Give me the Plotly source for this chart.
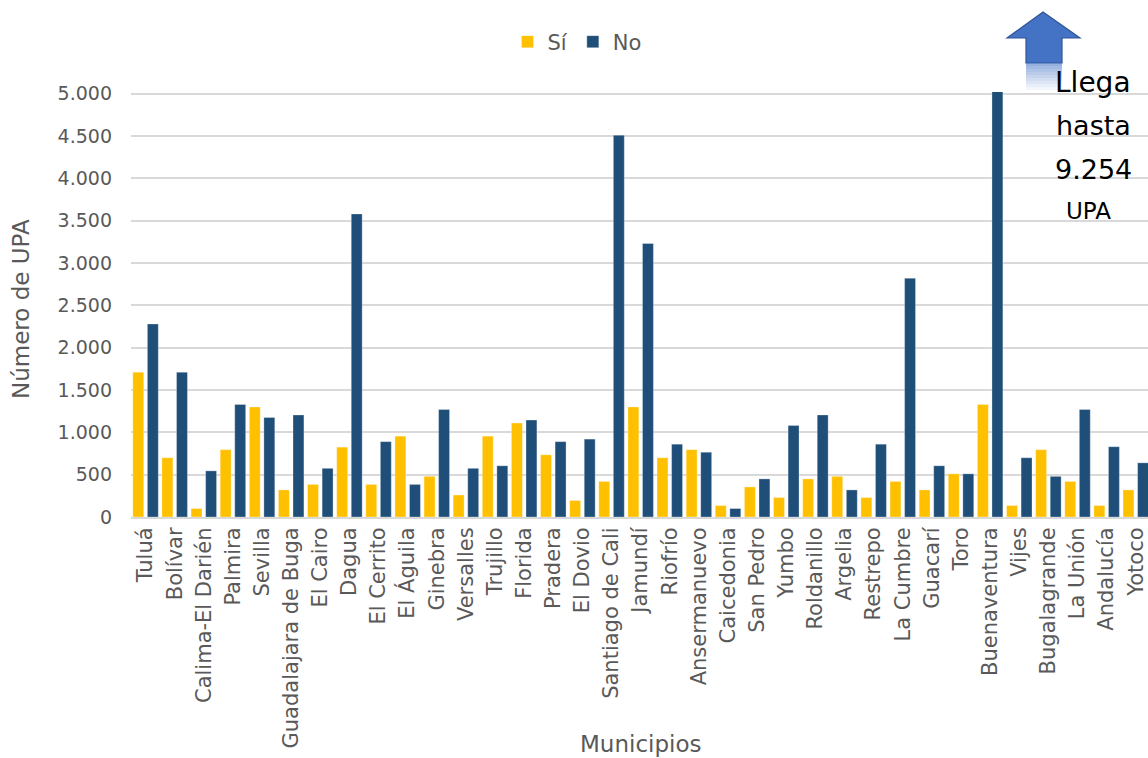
import plotly.graph_objects as go

# Municipios del Valle del Cauca y número de UPA por respuesta
municipios = [
    "Tuluá", "Bolívar", "Calima-El Darién", "Palmira", "Sevilla",
    "Guadalajara de Buga", "El Cairo", "Dagua", "El Cerrito", "El Águila",
    "Ginebra", "Versalles", "Trujillo", "Florida", "Pradera", "El Dovio",
    "Santiago de Cali", "Jamundí", "Riofrío", "Ansermanuevo", "Caicedonia",
    "San Pedro", "Yumbo", "Roldanillo", "Argelia", "Restrepo", "La Cumbre",
    "Guacarí", "Toro", "Buenaventura", "Vijes", "Bugalagrande", "La Unión",
    "Andalucía", "Yotoco",
]
upa_si = [
    1710, 700, 100, 795, 1300, 320, 385, 825, 385, 955,
    480, 260, 955, 1110, 735, 195, 420, 1300, 700, 795,
    135, 355, 230, 450, 480, 230, 420, 320, 510, 1330,
    135, 795, 420, 135, 320,
]
upa_no = [
    2280, 1710, 545, 1330, 1175, 1205, 575, 3580, 890, 385,
    1270, 575, 605, 1145, 890, 920, 4510, 3230, 860, 765,
    100, 450, 1080, 1205, 320, 860, 2820, 605, 510, 9254,
    700, 480, 1270, 830, 640,
]
y_ticks = [0, 500, 1000, 1500, 2000, 2500, 3000, 3500, 4000, 4500, 5000]
y_tick_text = ["0", "500", "1.000", "1.500", "2.000", "2.500", "3.000",
               "3.500", "4.000", "4.500", "5.000"]

FONT = "DejaVu Sans"
GRAY = "#595959"
AMARILLO = "#FFC000"
AZUL = "#1F4E79"

W, H = 1148, 758
M_L, M_R, M_T, M_B = 131, 0, 92, 241
PW, PH = W - M_L - M_R, H - M_T - M_B


def px(x):
    return (x - M_L) / PW


def py(y):
    return (H - M_B - y) / PH


fig = go.Figure()
fig.add_trace(go.Bar(name="Sí", x=municipios, y=upa_si, marker_color=AMARILLO,
                     marker_line=dict(color="rgba(255,255,255,0.5)", width=0.6)))
fig.add_trace(go.Bar(name="No", x=municipios, y=upa_no, marker_color=AZUL,
                     marker_line=dict(color="rgba(255,255,255,0.5)", width=0.6)))

# Flecha de bloque indicando que la barra de Buenaventura sigue más arriba
arrow_pts = [(1043, 12), (1080, 38), (1062, 38), (1062, 63), (1026, 63),
             (1026, 38), (1007, 38)]
path = "M " + " L ".join(f"{px(x):.5f},{py(y):.5f}" for x, y in arrow_pts) + " Z"
shapes = [dict(type="path", xref="paper", yref="paper", path=path,
               fillcolor="#4472C4", line=dict(color="#2F5597", width=1.2))]
steps = 9
for i in range(steps):
    y0 = 63 + i * 3
    shapes.append(dict(type="rect", xref="paper", yref="paper",
                       x0=px(1026), x1=px(1062), y0=py(y0), y1=py(y0 + 3),
                       fillcolor="#4472C4", opacity=0.55 * (1 - i / steps),
                       line=dict(width=0), layer="above"))

annotations = [
    dict(text="Municipios", xref="paper", yref="paper", x=px(640), y=py(744),
         showarrow=False, font=dict(family=FONT, size=23, color=GRAY),
         xanchor="center", yanchor="middle"),
    dict(text="Número de UPA", xref="paper", yref="paper", x=px(21), y=py(309),
         showarrow=False, textangle=-90, font=dict(family=FONT, size=23, color=GRAY),
         xanchor="center", yanchor="middle"),
]
note = [("Llega", 83, 28, 1093), ("hasta", 126, 27, 1093),
        ("9.254", 169, 27, 1093), ("UPA", 211, 23, 1088)]
for txt, yc, size, xc in note:
    annotations.append(dict(text=txt, xref="paper", yref="paper", x=px(xc), y=py(yc),
                            showarrow=False, font=dict(family=FONT, size=size, color="#000000"),
                            xanchor="center", yanchor="middle"))

fig.update_layout(
    width=W, height=H,
    margin=dict(l=M_L, r=M_R, t=M_T, b=M_B),
    paper_bgcolor="white", plot_bgcolor="white",
    barmode="group", bargap=0.0, bargroupgap=0.25,
    font=dict(family=FONT, color=GRAY),
    showlegend=True,
    legend=dict(orientation="h", x=px(577), y=py(42), xanchor="center", yanchor="middle",
                font=dict(family=FONT, size=21, color=GRAY), itemwidth=30,
                bgcolor="rgba(0,0,0,0)"),
    shapes=shapes,
    annotations=annotations,
)
fig.update_xaxes(
    range=[-0.5, 34.42], tickangle=-90, showline=True, linecolor="#D9D9D9", linewidth=2,
    showgrid=False, ticks="", tickfont=dict(family=FONT, size=21, color=GRAY),
)
fig.update_yaxes(
    range=[0, 5020], tickvals=y_ticks, ticktext=y_tick_text, showgrid=True,
    gridcolor="#D9D9D9", gridwidth=1.5, zeroline=False, ticks="",
    ticklabelstandoff=18, tickfont=dict(family=FONT, size=19, color=GRAY),
)

fig.write_html("out.html")
